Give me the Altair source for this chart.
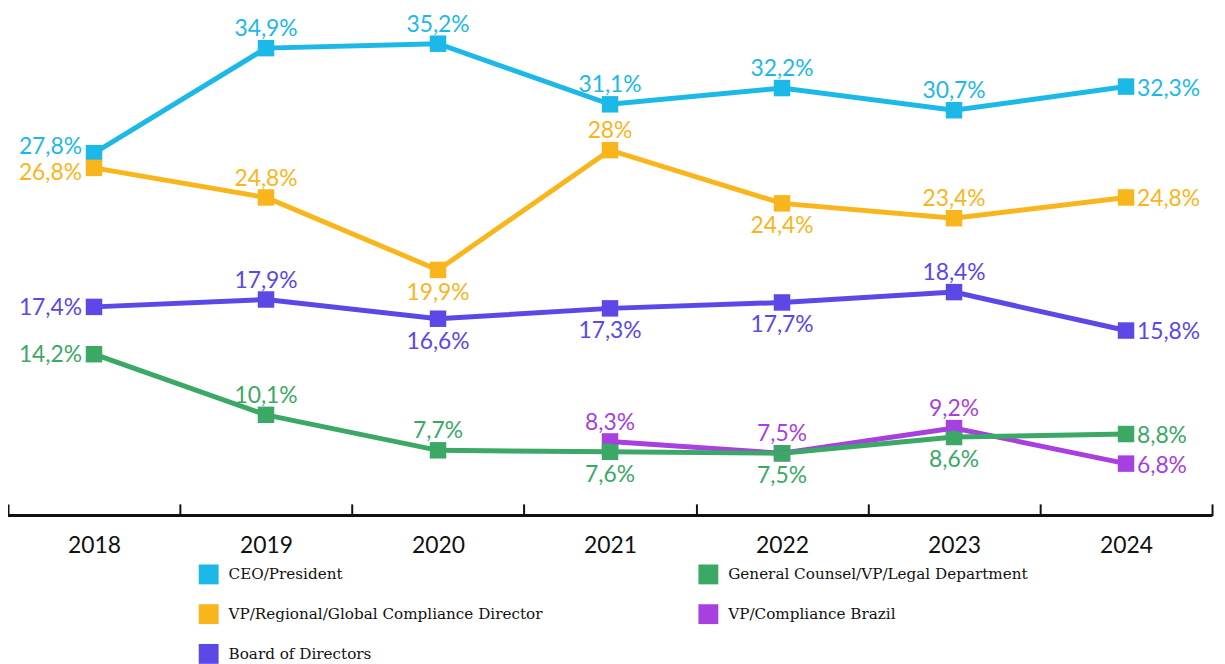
import altair as alt
import pandas as pd

years = ["2018", "2019", "2020", "2021", "2022", "2023", "2024"]

series_names = [
    "CEO/President",
    "VP/Regional/Global Compliance Director",
    "Board of Directors",
    "General Counsel/VP/Legal Department",
    "VP/Compliance Brazil",
]
series_colors = ["#1cb8e8", "#f9b51c", "#5b48e6", "#3ba866", "#a83fdf"]

ceo = [27.8, 34.9, 35.2, 31.1, 32.2, 30.7, 32.3]
vp_regional = [26.8, 24.8, 19.9, 28.0, 24.4, 23.4, 24.8]
board = [17.4, 17.9, 16.6, 17.3, 17.7, 18.4, 15.8]
general_counsel = [14.2, 10.1, 7.7, 7.6, 7.5, 8.6, 8.8]
vp_brazil = [None, None, None, 8.3, 7.5, 9.2, 6.8]

# label placement per point: Lu/Ld/L = left, A = above, B = below, R = right
ceo_pos = ["Lu", "A", "A", "A", "A", "A", "R"]
vp_regional_pos = ["Ld", "A", "B", "A", "B", "A", "R"]
board_pos = ["L", "A", "B", "B", "B", "A", "R"]
general_counsel_pos = ["L", "A", "A", "B", "B", "B", "R"]
vp_brazil_pos = ["L", "A", "A", "A", "A", "A", "R"]

rows = []
for name, vals, pos in [
    ("CEO/President", ceo, ceo_pos),
    ("VP/Regional/Global Compliance Director", vp_regional, vp_regional_pos),
    ("Board of Directors", board, board_pos),
    ("VP/Compliance Brazil", vp_brazil, vp_brazil_pos),
    ("General Counsel/VP/Legal Department", general_counsel, general_counsel_pos),
]:
    for y, v, p in zip(years, vals, pos):
        if v is None:
            continue
        label = (f"{v:.1f}".rstrip("0").rstrip(".") + "%").replace(".", ",")
        rows.append({"year": y, "value": v, "series": name, "pos": p, "label": label})
df = pd.DataFrame(rows)

W, H = 1212, 505
LABEL_FONT = "Lato"
FS = 23

x = alt.X("year:N", sort=years, scale=alt.Scale(type="band", paddingInner=0, paddingOuter=0),
          axis=alt.Axis(title=None, tickBand="extent", domain=False, ticks=True, tickSize=12,
                        tickColor="#111", tickWidth=2, offset=-12, labelAngle=0,
                        labelFont=LABEL_FONT, labelFontSize=23, labelColor="#111",
                        labelPadding=19, grid=False))
y = alt.Y("value:Q", scale=alt.Scale(domain=[3.27, 37.2], nice=False, zero=False), axis=None)
color_scale = alt.Scale(domain=series_names, range=series_colors)

base = alt.Chart(df).encode(x=x, y=y)

legend = alt.Legend(title=None, orient="none", legendX=192, legendY=554,
                    columns=2, symbolType="square", symbolSize=400,
                    symbolStrokeWidth=0, symbolOpacity=1,
                    labelFont="DejaVu Serif", labelFontSize=15.3,
                    labelColor="#111", labelLimit=500, labelOffset=10,
                    rowPadding=20, columnPadding=156)

points = base.mark_square(size=275, opacity=1, filled=True).encode(
    color=alt.Color("series:N", scale=color_scale, legend=legend)
)
lines = base.mark_line(strokeWidth=5).encode(
    color=alt.Color("series:N", scale=color_scale)
)

def text_layer(codes, **kw):
    return base.transform_filter(
        alt.FieldOneOfPredicate(field="pos", oneOf=codes)
    ).mark_text(font=LABEL_FONT, fontSize=FS, baseline="middle", **kw).encode(
        text="label:N",
        color=alt.Color("series:N", scale=color_scale),
    )

texts = [
    text_layer(["L"], align="right", dx=-12, dy=1),
    text_layer(["Lu"], align="right", dx=-12, dy=-6),
    text_layer(["Ld"], align="right", dx=-12, dy=5),
    text_layer(["A"], align="center", dy=-19),
    text_layer(["B"], align="center", dy=23),
    text_layer(["R"], align="left", dx=11, dy=2),
]

domain_line = alt.Chart(df).mark_rule(color="#111", strokeWidth=2).encode(
    x=alt.value(0), x2=alt.value(W), y=alt.value(H)
)

chart = alt.layer(points, lines, domain_line, *texts).properties(
    width=W, height=H,
    padding={"top": 4, "left": 0, "right": 5, "bottom": 148},
    autosize=alt.AutoSizeParams(type="none"),
).configure_view(stroke=None)

chart.save("out.html", embed_options={"renderer": "svg", "actions": False})
